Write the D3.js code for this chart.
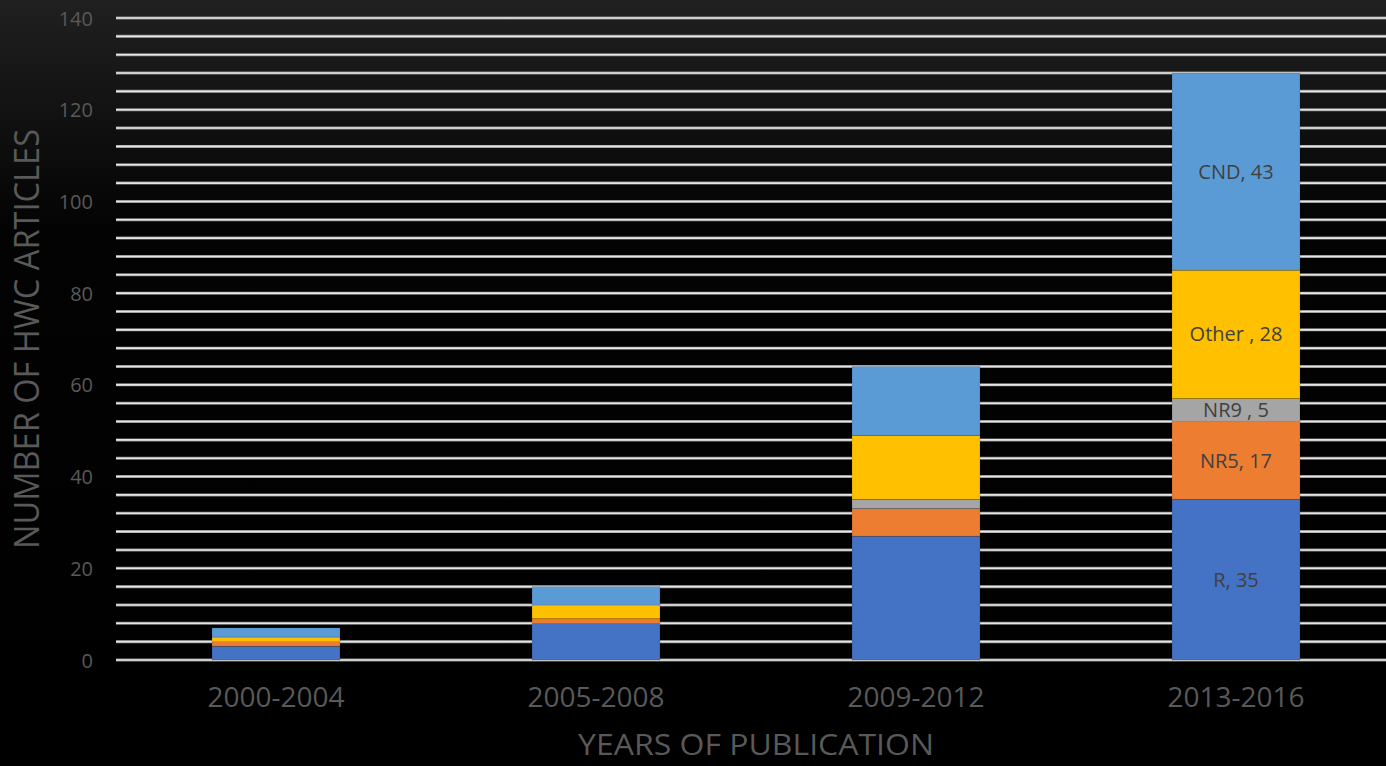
<!DOCTYPE html>
<html>
<head>
<meta charset="utf-8">
<script src="https://cdn.jsdelivr.net/npm/d3@7"></script>
<style>
  html, body { margin: 0; padding: 0; background: #000; }
  svg { display: block; }
</style>
</head>
<body>
<svg id="chart" width="1386" height="766"></svg>
<script>
// Publication periods and article counts per category
const periods = ["2000-2004", "2005-2008", "2009-2012", "2013-2016"];
const seriesNames = ["R", "NR5", "NR9", "Other", "CND"];
const R     = [3, 8, 27, 35];
const NR5   = [1, 1, 6, 17];
const NR9   = [0, 0, 2, 5];
const Other = [1, 3, 14, 28];
const CND   = [2, 4, 15, 43];
const seriesColors = ["#4472C4", "#ED7D31", "#A5A5A5", "#FFC000", "#5B9BD5"];
// Text shown inside segments of the last period
const labelText = ["R, 35", "NR5, 17", "NR9 , 5", "Other , 28", "CND, 43"];
const yTicks = [0, 20, 40, 60, 80, 100, 120, 140];

const W = 1386, H = 766;
const margin = { left: 116, right: -10, top: 18, bottom: 106 };
const svg = d3.select("#chart");

// Background: soft dark-grey glow at the top fading into black
const defs = svg.append("defs");
const grad = defs.append("linearGradient").attr("id", "bg").attr("x1", 0).attr("y1", 0).attr("x2", 0).attr("y2", 1);
grad.append("stop").attr("offset", "0%").attr("stop-color", "#202020");
grad.append("stop").attr("offset", "30%").attr("stop-color", "#030303");
grad.append("stop").attr("offset", "100%").attr("stop-color", "#000");
svg.append("rect").attr("width", W).attr("height", H).attr("fill", "url(#bg)");

const x = d3.scaleBand().domain(periods)
  .range([margin.left, W - margin.right])
  .paddingInner(0.6).paddingOuter(0.3);
const y = d3.scaleLinear().domain([0, 140]).range([H - margin.bottom, margin.top]);

// Horizontal gridlines every 4 articles
const gridVals = d3.range(0, 141, 4);
svg.append("g").selectAll("line").data(gridVals).join("line")
  .attr("x1", margin.left).attr("x2", W)
  .attr("y1", d => y(d)).attr("y2", d => y(d))
  .attr("stroke", "#8a8a8a").attr("stroke-width", 3);
svg.append("g").selectAll("line").data(gridVals).join("line")
  .attr("x1", margin.left).attr("x2", W)
  .attr("y1", d => y(d)).attr("y2", d => y(d))
  .attr("stroke", "#e6e6e6").attr("stroke-width", 1.6);

// Stacked bars
const table = periods.map((p, i) => ({
  period: p, R: R[i], NR5: NR5[i], NR9: NR9[i], Other: Other[i], CND: CND[i]
}));
const stacked = d3.stack().keys(seriesNames)(table);

const layers = svg.append("g").selectAll("g").data(stacked).join("g")
  .attr("fill", (d, i) => seriesColors[i]);
layers.selectAll("rect").data(d => d.filter(s => s[1] > s[0])).join("rect")
  .attr("x", d => x(d.data.period))
  .attr("width", x.bandwidth())
  .attr("y", d => y(d[1]))
  .attr("height", d => y(d[0]) - y(d[1]))
  .attr("stroke", "rgba(0,0,0,0.18)").attr("stroke-width", 0.8);

// Segment labels for the latest period
const last = periods.length - 1;
svg.append("g").selectAll("text").data(stacked).join("text")
  .attr("x", x(periods[last]) + x.bandwidth() / 2)
  .attr("y", d => y((d[last][0] + d[last][1]) / 2))
  .attr("dy", "0.35em")
  .attr("text-anchor", "middle")
  .attr("font-family", "Open Sans, sans-serif")
  .attr("font-size", 20)
  .attr("fill", "#404040")
  .text((d, i) => labelText[i]);

// Y axis tick labels
const yAxis = d3.axisLeft(y).tickValues(yTicks).tickSize(0).tickPadding(0);
const gy = svg.append("g").attr("transform", "translate(93,0)").call(yAxis);
gy.select(".domain").remove();
gy.selectAll("text")
  .attr("font-family", "Open Sans, sans-serif").attr("font-size", 20)
  .attr("fill", "#595959").attr("dy", "0.35em");

// X axis category labels
const xAxis = d3.axisBottom(x).tickSize(0).tickPadding(0);
const gx = svg.append("g").attr("transform", "translate(0,687)").call(xAxis);
gx.select(".domain").remove();
gx.selectAll("text")
  .attr("font-family", "Open Sans, sans-serif").attr("font-size", 28)
  .attr("fill", "#595959").attr("dy", "0.71em");

// Axis titles
svg.append("text")
  .attr("x", (margin.left + W - margin.right) / 2).attr("y", 755)
  .attr("text-anchor", "middle")
  .attr("font-family", "Open Sans, sans-serif").attr("font-size", 30)
  .attr("fill", "#595959")
  .attr("textLength", 356).attr("lengthAdjust", "spacingAndGlyphs")
  .text("YEARS OF PUBLICATION");

svg.append("text")
  .attr("transform", `translate(39,${(y(0) + y(140)) / 2}) rotate(-90)`)
  .attr("text-anchor", "middle")
  .attr("font-family", "Open Sans, sans-serif").attr("font-size", 34)
  .attr("fill", "#595959")
  .attr("textLength", 420).attr("lengthAdjust", "spacingAndGlyphs")
  .text("NUMBER OF HWC ARTICLES");
</script>
</body>
</html>
